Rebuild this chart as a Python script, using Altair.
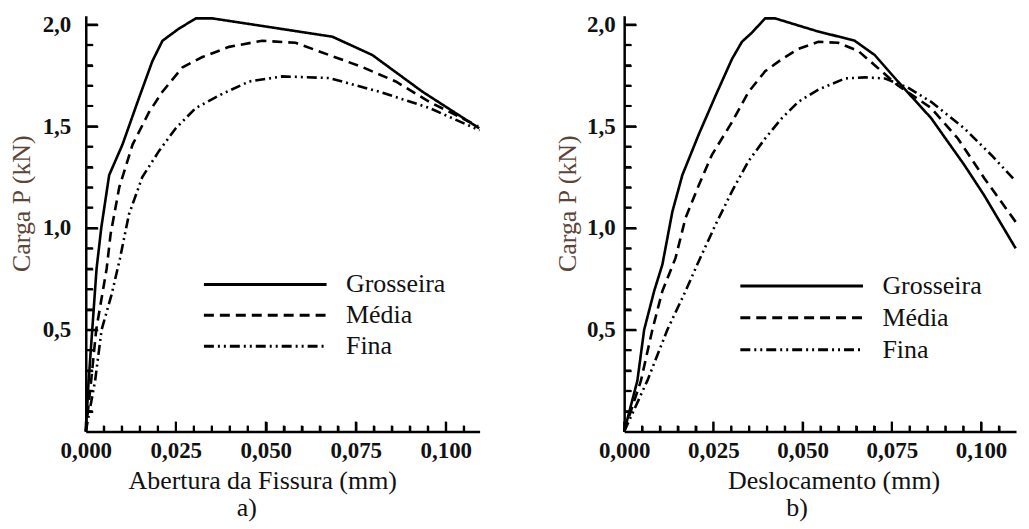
import altair as alt
import pandas as pd

SERIES = ["Grosseira", "Média", "Fina"]

# ---- Panel a) : Abertura da Fissura (mm) vs Carga P (kN)
a_gro_x = [0, 0.0008, 0.0018, 0.003, 0.0043, 0.0065, 0.0102, 0.0148, 0.0185, 0.0213, 0.0259, 0.0306, 0.0352, 0.0537, 0.0685, 0.0796, 0.0935, 0.1093]
a_gro_y = [0, 0.25, 0.5, 0.8, 1.0, 1.26, 1.41, 1.64, 1.82, 1.92, 1.98, 2.03, 2.03, 1.98, 1.94, 1.85, 1.67, 1.49]
a_med_x = [0, 0.0015, 0.0029, 0.0058, 0.0069, 0.0093, 0.013, 0.0176, 0.0213, 0.0269, 0.0324, 0.0398, 0.049, 0.0583, 0.0676, 0.0769, 0.0861, 0.0954, 0.109]
a_med_y = [0, 0.25, 0.5, 0.8, 0.97, 1.2, 1.41, 1.57, 1.67, 1.79, 1.84, 1.89, 1.92, 1.91, 1.85, 1.79, 1.72, 1.62, 1.5]
a_fin_x = [0, 0.0026, 0.0044, 0.0072, 0.0095, 0.012, 0.0157, 0.0204, 0.025, 0.0306, 0.038, 0.0454, 0.0546, 0.0676, 0.0815, 0.0954, 0.1094]
a_fin_y = [0, 0.25, 0.5, 0.675, 0.85, 1.067, 1.25, 1.38, 1.49, 1.59, 1.66, 1.72, 1.745, 1.737, 1.67, 1.59, 1.48]

# ---- Panel b) : Deslocamento (mm) vs Carga P (kN)
b_gro_x = [0, 0.0037, 0.0056, 0.0084, 0.0107, 0.0135, 0.0163, 0.0209, 0.0256, 0.0302, 0.033, 0.0358, 0.0395, 0.0423, 0.0535, 0.0646, 0.0702, 0.0767, 0.086, 0.0953, 0.1009, 0.1097]
b_gro_y = [0, 0.25, 0.5, 0.69, 0.82, 1.08, 1.26, 1.46, 1.65, 1.83, 1.915, 1.96, 2.03, 2.03, 1.97, 1.92, 1.85, 1.72, 1.54, 1.31, 1.16, 0.9]
b_med_x = [0, 0.0047, 0.0079, 0.0107, 0.0144, 0.0172, 0.0209, 0.0246, 0.0302, 0.0349, 0.0395, 0.0442, 0.0488, 0.0544, 0.06, 0.0656, 0.0702, 0.0767, 0.086, 0.0935, 0.1009, 0.1097]
b_med_y = [0, 0.25, 0.5, 0.69, 0.853, 1.05, 1.21, 1.36, 1.52, 1.67, 1.77, 1.83, 1.88, 1.915, 1.91, 1.87, 1.8, 1.7, 1.59, 1.44, 1.245, 1.03]
b_fin_x = [0, 0.0065, 0.0121, 0.0172, 0.0209, 0.0256, 0.0302, 0.0349, 0.0395, 0.0442, 0.0488, 0.0544, 0.0619, 0.0674, 0.073, 0.0795, 0.086, 0.0953, 0.1028, 0.1097]
b_fin_y = [0, 0.25, 0.5, 0.69, 0.837, 1.016, 1.18, 1.33, 1.44, 1.54, 1.62, 1.68, 1.735, 1.74, 1.735, 1.69, 1.62, 1.49, 1.36, 1.23]

# axis tick values
X_MAJOR = [0, 0.025, 0.05, 0.075, 0.1]
X_MINOR = [0.005, 0.01, 0.015, 0.02, 0.03, 0.035, 0.04, 0.045, 0.055, 0.06, 0.065, 0.07,
           0.08, 0.085, 0.09, 0.095, 0.105]
Y_MAJOR = [0.5, 1.0, 1.5, 2.0]
Y_MINOR = [0.1, 0.2, 0.3, 0.4, 0.6, 0.7, 0.8, 0.9, 1.1, 1.2, 1.3, 1.4, 1.6, 1.7, 1.8, 1.9]
X_TICKS = sorted(X_MAJOR + X_MINOR)
Y_TICKS = sorted(Y_MAJOR + Y_MINOR)

FONT = "Liberation Serif"
DASHES = [[1, 0], [10, 6], [10, 4, 2, 4, 2, 4]]
H = 417
XT, XTm = 10, 6   # tick lengths on x axis (major, minor)
YT, YTm = 12, 7   # tick lengths on y axis (major, minor)
X_MAJOR_TEST = "abs(datum.value / 0.025 - round(datum.value / 0.025)) < 0.001"
Y_MAJOR_TEST = "abs(datum.value * 2 - round(datum.value * 2)) < 0.001"


def frame(pairs):
    rows = []
    for name, xs, ys in pairs:
        for i, (xv, yv) in enumerate(zip(xs, ys)):
            rows.append({"series": name, "x": xv, "y": yv, "i": i})
    return pd.DataFrame(rows)


def panel(df, W, xmax, xtitle, xtitle_x, ylab_pad, ytitle_x, leg_x, leg_y, clip_h, label, label_dx):
    xs = alt.Scale(domain=[0, xmax], nice=False, zero=False)
    ys = alt.Scale(domain=[0, 2.043], nice=False, zero=False)
    xaxis = alt.Axis(
        orient="bottom", values=X_TICKS, grid=False, zindex=2,
        ticks=True, tickSize=alt.ExprRef(expr=str(-XT)), tickWidth=2, tickColor="black",
        tickDash={"condition": {"test": X_MAJOR_TEST, "value": [XT + 2, 0]}, "value": [XTm, 30]},
        domainColor="black", domainWidth=2.5,
        labelExpr="(" + X_MAJOR_TEST + ") ? replace(format(datum.value, '.3f'), '.', ',') : ''",
        labelFont=FONT, labelFontSize=23, labelFontWeight="bold", labelColor="#111111",
        labelPadding=8 + XT, labelFlush=False, labelOverlap=False,
        title=xtitle, titleFont=FONT, titleFontSize=26, titleFontWeight="normal",
        titleColor="#111111", titleX=xtitle_x, titleY=36, titleBaseline="top",
        titleAlign="center", titleAnchor="start")
    yaxis = alt.Axis(
        orient="left", values=Y_TICKS, grid=False, zindex=2,
        ticks=True, tickSize=alt.ExprRef(expr=str(-YT)), tickWidth=2, tickColor="black",
        tickDash={"condition": {"test": Y_MAJOR_TEST, "value": [YT + 2, 0]}, "value": [YTm, 30]},
        domainColor="black", domainWidth=2.5,
        labelExpr="(" + Y_MAJOR_TEST + ") ? replace(format(datum.value, '.1f'), '.', ',') : ''",
        labelFont=FONT, labelFontSize=23, labelFontWeight="bold", labelColor="#111111",
        labelPadding=ylab_pad + YT, labelOverlap=False, labelBaseline="middle",
        title="Carga P (kN)", titleFont=FONT, titleFontSize=26, titleFontWeight="normal",
        titleColor="#5b4636", titleAngle=270, titleX=ytitle_x, titleY=188,
        titleBaseline="bottom", titleAlign="center", titleAnchor="start")

    def xticks(vals, size):
        return alt.Chart(pd.DataFrame({"x": vals})).mark_tick(
            color="black", thickness=2, size=size, opacity=1).encode(
            x=alt.X("x:Q", scale=xs, axis=xaxis),
            y=alt.value(H - size / 2))

    def yticks(vals, size):
        return alt.Chart(pd.DataFrame({"y": vals})).mark_tick(
            color="black", thickness=2, size=size, opacity=1).encode(
            y=alt.Y("y:Q", scale=ys, axis=yaxis),
            x=alt.value(size / 2))

    lines = alt.Chart(df).mark_line(color="black", strokeWidth=2.6).encode(
        x=alt.X("x:Q", scale=xs, axis=xaxis),
        y=alt.Y("y:Q", scale=ys, axis=yaxis),
        strokeDash=alt.StrokeDash("series:N", scale=alt.Scale(domain=SERIES, range=DASHES),
            legend=alt.Legend(
                title=None, orient="none", legendX=leg_x, legendY=leg_y,
                symbolType="stroke", symbolSize=123 * 123, symbolStrokeWidth=3,
                symbolStrokeColor="black", clipHeight=clip_h, rowPadding=0, padding=0,
                labelFont=FONT, labelFontSize=26, labelOffset=18, labelColor="#111111",
                labelLimit=400)),
        order="i:Q",
    )

    return alt.layer(
        xticks(X_MINOR, XTm), xticks(X_MAJOR, XT),
        yticks(Y_MINOR, YTm), yticks(Y_MAJOR, YT),
        lines,
    ).properties(
        width=W, height=H,
        title=alt.TitleParams(label, orient="bottom", anchor="middle", frame="group",
                              font=FONT, fontSize=26, fontWeight="normal", color="#111111",
                              dx=label_dx, offset=2),
    )


df_a = frame([("Grosseira", a_gro_x, a_gro_y), ("Média", a_med_x, a_med_y), ("Fina", a_fin_x, a_fin_y)])
df_b = frame([("Grosseira", b_gro_x, b_gro_y), ("Média", b_med_x, b_med_y), ("Fina", b_fin_x, b_fin_y)])

pa = panel(df_a, 395, 0.1094, "Abertura da Fissura (mm)", 177, 15, -51, 117, 254, 31, "a)", -36)
pb = panel(df_b, 393, 0.1098, "Deslocamento (mm)", 210, 9, -44, 115, 255, 32, "b)", -23)

chart = alt.hconcat(pa, pb, spacing=69).resolve_scale(
    strokeDash="independent"
).resolve_legend(
    strokeDash="independent"
).properties(
    padding={"left": 1, "top": 4, "right": 0, "bottom": 0},
    background="white",
).configure_view(stroke=None).configure_legend(
    labelFont=FONT, labelFontSize=26, labelColor="#111111"
)

chart.save("out.html", embed_options={"renderer": "svg", "actions": False})
